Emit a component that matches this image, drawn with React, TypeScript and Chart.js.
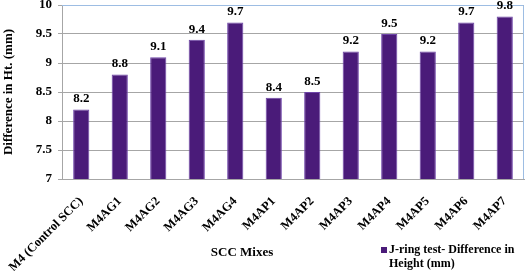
import React, { useEffect, useRef } from "react";
import { Chart, registerables } from "chart.js";

Chart.register(...registerables);

const categories = [
  "M4 (Control SCC)",
  "M4AG1",
  "M4AG2",
  "M4AG3",
  "M4AG4",
  "M4AP1",
  "M4AP2",
  "M4AP3",
  "M4AP4",
  "M4AP5",
  "M4AP6",
  "M4AP7",
];
const jRingValues = [8.2, 8.8, 9.1, 9.4, 9.7, 8.4, 8.5, 9.2, 9.5, 9.2, 9.7, 9.8];
const legendLines = ["J-ring test- Difference in", "Height (mm)"];
const yTitle = "Difference in Ht. (mm)";
const xTitle = "SCC Mixes";
const yMin = 7;
const yMax = 10;
const yStep = 0.5;

const FONT = "'Liberation Serif', 'Times New Roman', serif";
const BAR_COLOR = "#4a1b79";

const extrasPlugin = {
  id: "extras",
  afterDatasetsDraw(chart: any) {
    const ctx = chart.ctx;
    const area = chart.chartArea;
    ctx.save();
    ctx.strokeStyle = "#9dbde3";
    ctx.lineWidth = 1;
    ctx.beginPath();
    ctx.moveTo(area.left, area.top + 0.5);
    ctx.lineTo(area.right - 0.5, area.top + 0.5);
    ctx.lineTo(area.right - 0.5, area.bottom);
    ctx.stroke();

    const meta = chart.getDatasetMeta(0);
    ctx.fillStyle = "#000";
    ctx.font = `bold 13px ${FONT}`;
    ctx.textAlign = "center";
    ctx.textBaseline = "bottom";
    meta.data.forEach((bar: any, i: number) => {
      const v = chart.data.datasets[0].data[i];
      ctx.fillText(String(v), bar.x, bar.y - 4);
    });

    ctx.font = `bold 13px ${FONT}`;
    ctx.textAlign = "center";
    ctx.textBaseline = "middle";
    ctx.fillText(xTitle, 242, 253);

    const lx = chart.width - 144;
    ctx.fillStyle = BAR_COLOR;
    ctx.fillRect(lx, 247, 6, 6);
    ctx.fillStyle = "#000";
    ctx.font = `bold 12px ${FONT}`;
    ctx.textAlign = "left";
    ctx.textBaseline = "middle";
    legendLines.forEach((line, i) => {
      ctx.fillText(line, lx + 8, 250 + i * 14);
    });
    ctx.restore();
  },
};

export default function App() {
  const ref = useRef<HTMLCanvasElement>(null);
  useEffect(() => {
    document.body.style.margin = "0";
    const chart = new Chart(ref.current as HTMLCanvasElement, {
      type: "bar",
      data: {
        labels: categories,
        datasets: [
          {
            label: legendLines.join(" "),
            data: jRingValues,
            backgroundColor: BAR_COLOR,
            borderColor: "#6e45a8",
            borderWidth: 1,
            barPercentage: 0.42,
            categoryPercentage: 1,
          },
        ],
      },
      options: {
        responsive: false,
        animation: false,
        devicePixelRatio: 1,
        layout: { padding: { top: 5, right: 1, left: 0, bottom: 0 } },
        plugins: {
          legend: { display: false },
          tooltip: { enabled: false },
        },
        scales: {
          x: {
            grid: { display: false },
            border: { display: true, color: "#a6a6a6", width: 1 },
            ticks: {
              color: "#000",
              font: { family: FONT, size: 12.5, weight: "bold" },
              maxRotation: 45,
              minRotation: 45,
              padding: 7,
              autoSkip: false,
            },
            afterFit(scale: any) {
              scale.height = 92;
              scale.paddingLeft = 0;
              scale.paddingRight = 0;
            },
          },
          y: {
            min: yMin,
            max: yMax,
            ticks: {
              stepSize: yStep,
              color: "#000",
              font: { family: FONT, size: 13, weight: "bold" },
              padding: 6,
              callback: (v: any) => String(Number(v)),
            },
            grid: { color: "#a6a6a6", lineWidth: 1, tickLength: 4 },
            border: { display: true, color: "#a6a6a6", width: 1 },
            title: {
              display: true,
              text: yTitle,
              color: "#000",
              font: { family: FONT, size: 13, weight: "bold" },
              padding: { top: 1, bottom: 0 },
            },
            afterFit(scale: any) {
              scale.width = 62;
              scale.paddingTop = 0;
              scale.paddingBottom = 0;
            },
          },
        },
      },
      plugins: [extrasPlugin],
    });
    return () => chart.destroy();
  }, []);
  return (
    <div style={{ position: "relative", width: 525, height: 271 }}>
      <canvas ref={ref} width={525} height={271} />
    </div>
  );
}
